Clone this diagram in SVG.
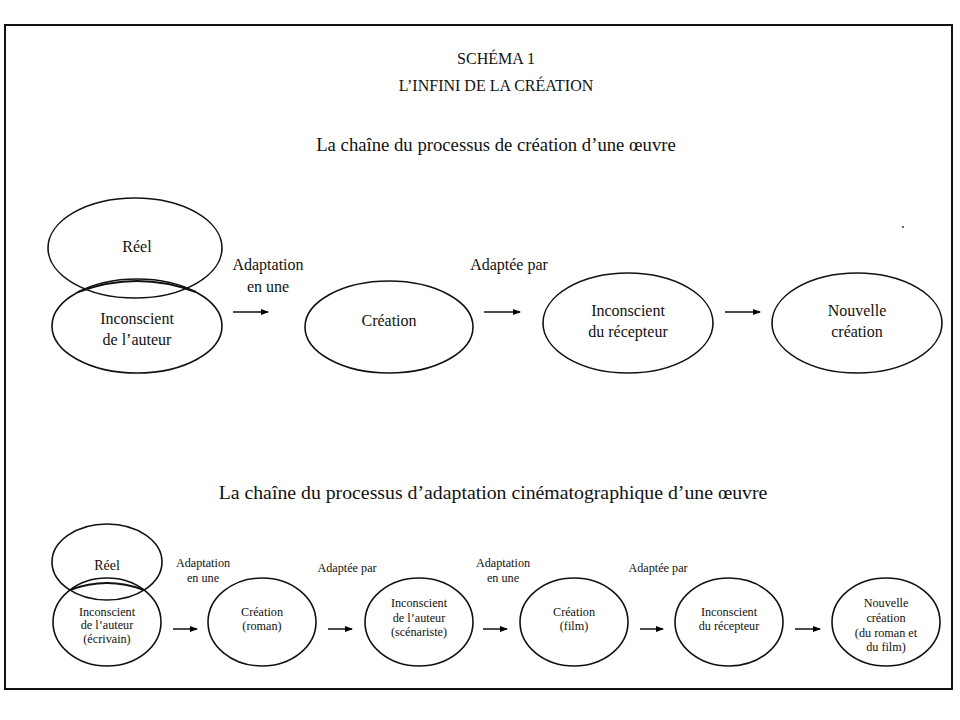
<svg xmlns="http://www.w3.org/2000/svg" width="960" height="720" viewBox="0 0 960 720" font-family="'Liberation Serif', 'DejaVu Serif', serif">
<defs>
<marker id="ah" markerWidth="8" markerHeight="8" refX="7" refY="4" orient="auto" markerUnits="userSpaceOnUse">
<path d="M0,1 L8,4 L0,7 Z" fill="#000"/>
</marker>
<style>
text{font-family:'Liberation Serif','DejaVu Serif',serif;fill:#111;text-anchor:middle}
.n{fill:none;stroke:#111;stroke-width:1.6}
.t16{font-size:16px}
.t12{font-size:12.2px}
.c line{stroke:#111;stroke-width:1.5;marker-end:url(#ah)}
</style>
</defs>
<rect width="960" height="720" fill="#fff"/>
<rect x="5" y="25" width="947" height="664" fill="none" stroke="#111" stroke-width="2"/>
<text x="496" y="64" class="t16">SCHÉMA 1</text>
<text x="496" y="91" class="t16">L’INFINI DE LA CRÉATION</text>
<text x="496" y="151" style="font-size:18.7px">La chaîne du processus de création d’une œuvre</text>
<circle cx="903" cy="227" r="1" fill="#333"/>

<g id="top-reel"><ellipse class="n" cx="135" cy="248" rx="87" ry="50"/><text x="137" y="252" class="t16">Réel</text></g>
<g id="top-inconscient-auteur"><ellipse class="n" cx="137" cy="326" rx="85" ry="47"/><path d="M78,292 Q137,270 196,292" fill="none" stroke="#111" stroke-width="2.2"/><text x="137" y="324" class="t16">Inconscient</text><text x="137" y="345" class="t16">de l’auteur</text></g>
<g id="top-creation"><ellipse class="n" cx="389" cy="327" rx="84" ry="46"/><text x="389" y="326" class="t16">Création</text></g>
<g id="top-inconscient-recepteur"><ellipse class="n" cx="628" cy="323" rx="85" ry="50"/><text x="628" y="316" class="t16">Inconscient</text><text x="628" y="337" class="t16">du récepteur</text></g>
<g id="top-nouvelle"><ellipse class="n" cx="857" cy="323" rx="85" ry="50"/><text x="857" y="316" class="t16">Nouvelle</text><text x="857" y="337" class="t16">création</text></g>
<g id="top-labels">
<text x="268" y="270" class="t16">Adaptation</text><text x="268" y="292" class="t16">en une</text>
<text x="509" y="270" class="t16">Adaptée par</text>
</g>
<g class="c" id="top-connectors">
<line x1="233" y1="312" x2="268" y2="312"/>
<line x1="484" y1="312" x2="520" y2="312"/>
<line x1="725" y1="312" x2="760" y2="312"/>
</g>

<text x="493" y="499" style="font-size:19.8px">La chaîne du processus d’adaptation cinématographique d’une œuvre</text>

<g id="b-reel"><ellipse class="n" cx="107" cy="562" rx="55" ry="38"/><text x="107" y="570" style="font-size:14px">Réel</text></g>
<g id="b-inconscient-ecrivain"><ellipse class="n" cx="107" cy="622" rx="54" ry="44"/><path d="M70,590 Q107,576 144,590" fill="none" stroke="#111" stroke-width="2"/><text x="107" y="616" class="t12">Inconscient</text><text x="107" y="629" class="t12">de l’auteur</text><text x="107" y="643" class="t12">(écrivain)</text></g>
<g id="b-creation-roman"><ellipse class="n" cx="262" cy="622" rx="54" ry="44"/><text x="262" y="616" class="t12">Création</text><text x="262" y="630" class="t12">(roman)</text></g>
<g id="b-inconscient-scenariste"><ellipse class="n" cx="419" cy="622" rx="54" ry="44"/><text x="419" y="607" class="t12">Inconscient</text><text x="419" y="622" class="t12">de l’auteur</text><text x="419" y="636" class="t12">(scénariste)</text></g>
<g id="b-creation-film"><ellipse class="n" cx="574" cy="622" rx="54" ry="44"/><text x="574" y="616" class="t12">Création</text><text x="574" y="630" class="t12">(film)</text></g>
<g id="b-inconscient-recepteur"><ellipse class="n" cx="729" cy="622" rx="54" ry="44"/><text x="729" y="616" class="t12">Inconscient</text><text x="729" y="630" class="t12">du récepteur</text></g>
<g id="b-nouvelle"><ellipse class="n" cx="886" cy="622" rx="54" ry="44"/><text x="886" y="607" class="t12">Nouvelle</text><text x="886" y="622" class="t12">création</text><text x="886" y="637" class="t12">(du roman et</text><text x="886" y="651" class="t12">du film)</text></g>
<g id="b-labels">
<text x="203" y="567" class="t12">Adaptation</text><text x="203" y="582" class="t12">en une</text>
<text x="347" y="572" class="t12">Adaptée par</text>
<text x="503" y="567" class="t12">Adaptation</text><text x="503" y="582" class="t12">en une</text>
<text x="658" y="572" class="t12">Adaptée par</text>
</g>
<g class="c" id="bottom-connectors">
<line x1="173" y1="629" x2="197" y2="629"/>
<line x1="328" y1="629" x2="352" y2="629"/>
<line x1="483" y1="629" x2="507" y2="629"/>
<line x1="640" y1="629" x2="663" y2="629"/>
<line x1="795" y1="629" x2="820" y2="629"/>
</g>
</svg>
